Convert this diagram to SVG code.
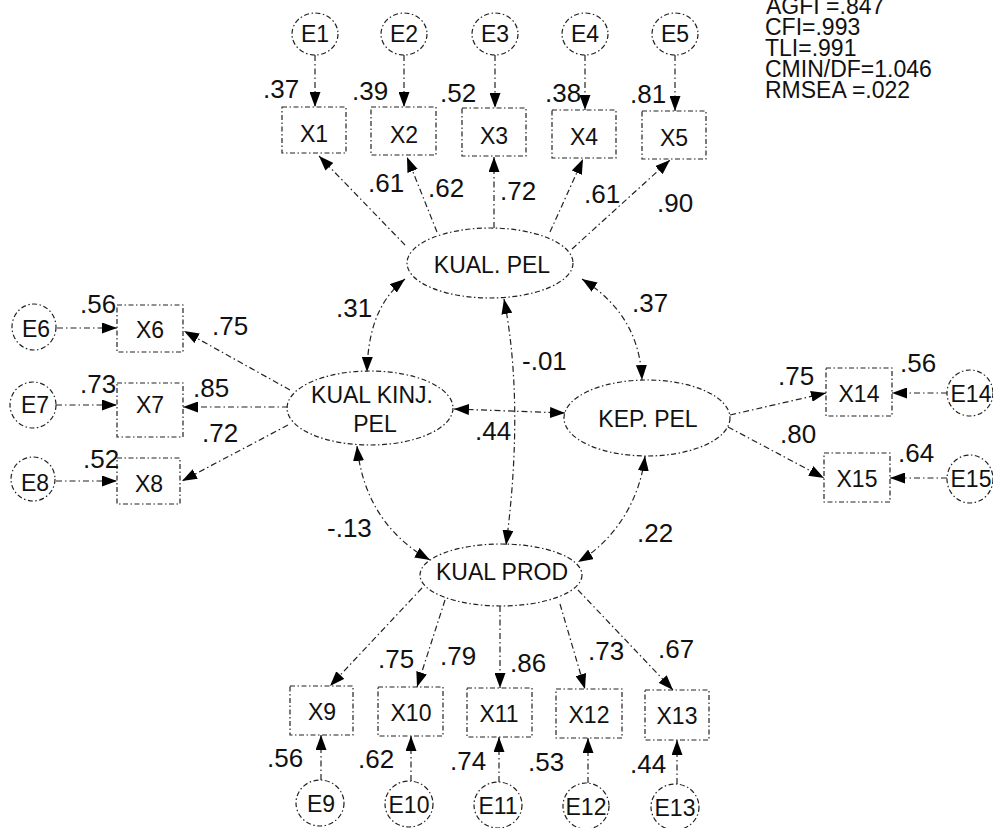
<svg xmlns="http://www.w3.org/2000/svg" width="993" height="828" viewBox="0 0 993 828">
<defs>
<style>
.n{fill:none;stroke:#222;stroke-width:1.2;stroke-dasharray:5 2.5 1.5 2.5}
.c{fill:none;stroke:#222;stroke-width:1.2;stroke-dasharray:6 3 1.5 3}
.t{font-family:"Liberation Sans",Arial,sans-serif;fill:#111;text-anchor:middle}
.e{font-size:23px}
.x{font-size:23px}
.l{font-size:23px}
.v{font-family:"Liberation Sans",Arial,sans-serif;fill:#111;font-size:26px}
.s{font-family:"Liberation Sans",Arial,sans-serif;fill:#111;font-size:23px}
</style>
<marker id="a" viewBox="0 0 15 11" refX="15" refY="5.5" markerWidth="15" markerHeight="11" markerUnits="userSpaceOnUse" orient="auto-start-reverse">
<path d="M0,0 L15,5.5 L0,11 z" fill="#000"/>
</marker>
</defs>
<rect width="993" height="828" fill="#fff"/>

<g id="connectors">
<path class="c" d="M315,55 L315,107" marker-end="url(#a)"/>
<path class="c" d="M404,55 L404,107" marker-end="url(#a)"/>
<path class="c" d="M495,55 L495,108" marker-end="url(#a)"/>
<path class="c" d="M585,55 L585,110" marker-end="url(#a)"/>
<path class="c" d="M675,55 L675,111" marker-end="url(#a)"/>
<path class="c" d="M57,328 L117,328" marker-end="url(#a)"/>
<path class="c" d="M56,405 L117,405" marker-end="url(#a)"/>
<path class="c" d="M56,481 L117,481" marker-end="url(#a)"/>
<path class="c" d="M947,393 L892,393" marker-end="url(#a)"/>
<path class="c" d="M947,478 L890,478" marker-end="url(#a)"/>
<path class="c" d="M321,780 L321,735" marker-end="url(#a)"/>
<path class="c" d="M411,781 L411,736" marker-end="url(#a)"/>
<path class="c" d="M499,782 L499,737" marker-end="url(#a)"/>
<path class="c" d="M588,783 L588,738" marker-end="url(#a)"/>
<path class="c" d="M677,784 L677,740" marker-end="url(#a)"/>
<path class="c" d="M405,245 L319,156" marker-end="url(#a)"/>
<path class="c" d="M437,232 L407,157" marker-end="url(#a)"/>
<path class="c" d="M494,228 L494,157" marker-end="url(#a)"/>
<path class="c" d="M550,232 L583,159" marker-end="url(#a)"/>
<path class="c" d="M572,249 L670,160" marker-end="url(#a)"/>
<path class="c" d="M290,390 L184,331" marker-end="url(#a)"/>
<path class="c" d="M288,407 L183,407" marker-end="url(#a)"/>
<path class="c" d="M288,425 L182,481" marker-end="url(#a)"/>
<path class="c" d="M730,415 L826,393" marker-end="url(#a)"/>
<path class="c" d="M728,427 L824,478" marker-end="url(#a)"/>
<path class="c" d="M422,588 L330,686" marker-end="url(#a)"/>
<path class="c" d="M445,600 L417,687" marker-end="url(#a)"/>
<path class="c" d="M500,606 L500,688" marker-end="url(#a)"/>
<path class="c" d="M560,604 L585,689" marker-end="url(#a)"/>
<path class="c" d="M578,590 L673,690" marker-end="url(#a)"/>
<path class="c" d="M405,279 C385,295 368,320 367,372" marker-start="url(#a)" marker-end="url(#a)"/>
<path class="c" d="M582,279 C615,300 640,330 642,380" marker-start="url(#a)" marker-end="url(#a)"/>
<path class="c" d="M504,299 C520,380 516,470 506,545" marker-start="url(#a)" marker-end="url(#a)"/>
<path class="c" d="M454,409 L565,413" marker-start="url(#a)" marker-end="url(#a)"/>
<path class="c" d="M357,446 C362,495 385,535 430,560" marker-start="url(#a)" marker-end="url(#a)"/>
<path class="c" d="M645,456 C640,500 615,540 578,562" marker-start="url(#a)" marker-end="url(#a)"/>
</g>

<g id="KUAL_PEL"><ellipse class="n" cx="490" cy="263" rx="83" ry="35"/><text class="t l" x="492" y="273">KUAL. PEL</text></g>
<g id="KUAL_KINJ_PEL"><ellipse class="n" cx="370" cy="408" rx="83" ry="37"/><text class="t l" x="372" y="403">KUAL KINJ.</text><text class="t l" x="375" y="432">PEL</text></g>
<g id="KEP_PEL"><ellipse class="n" cx="647" cy="418" rx="83" ry="38"/><text class="t l" x="648" y="427">KEP. PEL</text></g>
<g id="KUAL_PROD"><ellipse class="n" cx="501" cy="575" rx="81" ry="31"/><text class="t l" x="502" y="580">KUAL PROD</text></g>

<g id="X1"><rect class="n" x="282" y="107" width="64" height="46"/><text class="t x" x="314" y="142">X1</text></g>
<g id="X2"><rect class="n" x="371" y="107" width="65" height="48"/><text class="t x" x="404" y="143">X2</text></g>
<g id="X3"><rect class="n" x="462" y="108" width="64" height="48"/><text class="t x" x="494" y="144">X3</text></g>
<g id="X4"><rect class="n" x="552" y="110" width="64" height="48"/><text class="t x" x="584" y="145">X4</text></g>
<g id="X5"><rect class="n" x="642" y="111" width="64" height="48"/><text class="t x" x="674" y="146">X5</text></g>
<g id="X6"><rect class="n" x="117" y="305" width="66" height="47"/><text class="t x" x="150" y="338">X6</text></g>
<g id="X7"><rect class="n" x="117" y="383" width="66" height="54"/><text class="t x" x="150" y="413">X7</text></g>
<g id="X8"><rect class="n" x="117" y="458" width="63" height="46"/><text class="t x" x="149" y="492">X8</text></g>
<g id="X14"><rect class="n" x="826" y="368" width="66" height="48"/><text class="t x" x="859" y="402">X14</text></g>
<g id="X15"><rect class="n" x="824" y="453" width="66" height="49"/><text class="t x" x="857" y="487">X15</text></g>
<g id="X9"><rect class="n" x="290" y="686" width="63" height="49"/><text class="t x" x="322" y="720">X9</text></g>
<g id="X10"><rect class="n" x="378" y="687" width="65" height="49"/><text class="t x" x="411" y="721">X10</text></g>
<g id="X11"><rect class="n" x="467" y="688" width="65" height="49"/><text class="t x" x="499" y="722">X11</text></g>
<g id="X12"><rect class="n" x="556" y="689" width="66" height="49"/><text class="t x" x="589" y="723">X12</text></g>
<g id="X13"><rect class="n" x="645" y="690" width="64" height="50"/><text class="t x" x="677" y="724">X13</text></g>

<g id="E1"><ellipse class="n" cx="315" cy="34" rx="23" ry="21"/><text class="t e" x="315" y="42">E1</text></g>
<g id="E2"><ellipse class="n" cx="404" cy="34" rx="23" ry="21"/><text class="t e" x="404" y="42">E2</text></g>
<g id="E3"><ellipse class="n" cx="495" cy="34" rx="23" ry="21"/><text class="t e" x="495" y="42">E3</text></g>
<g id="E4"><ellipse class="n" cx="585" cy="34" rx="23" ry="21"/><text class="t e" x="585" y="42">E4</text></g>
<g id="E5"><ellipse class="n" cx="675" cy="34" rx="23" ry="21"/><text class="t e" x="675" y="42">E5</text></g>
<g id="E6"><ellipse class="n" cx="34" cy="327" rx="22" ry="23"/><text class="t e" x="36" y="337">E6</text></g>
<g id="E7"><ellipse class="n" cx="33" cy="405" rx="23" ry="23"/><text class="t e" x="35" y="413">E7</text></g>
<g id="E8"><ellipse class="n" cx="33" cy="479" rx="22" ry="22"/><text class="t e" x="35" y="491">E8</text></g>
<g id="E14"><ellipse class="n" cx="970" cy="393" rx="23" ry="23"/><text class="t e" x="971" y="402">E14</text></g>
<g id="E15"><ellipse class="n" cx="970" cy="479" rx="23" ry="24"/><text class="t e" x="971" y="487">E15</text></g>
<g id="E9"><ellipse class="n" cx="320" cy="803" rx="24" ry="23"/><text class="t e" x="321" y="812">E9</text></g>
<g id="E10"><ellipse class="n" cx="409" cy="804" rx="24" ry="23"/><text class="t e" x="409" y="813">E10</text></g>
<g id="E11"><ellipse class="n" cx="498" cy="805" rx="24" ry="23"/><text class="t e" x="498" y="814">E11</text></g>
<g id="E12"><ellipse class="n" cx="586" cy="806" rx="23" ry="23"/><text class="t e" x="586" y="815">E12</text></g>
<g id="E13"><ellipse class="n" cx="675" cy="807" rx="24" ry="23"/><text class="t e" x="675" y="816">E13</text></g>

<g id="values">
<text class="v" x="263" y="98">.37</text>
<text class="v" x="352" y="100">.39</text>
<text class="v" x="440" y="102">.52</text>
<text class="v" x="545" y="102">.38</text>
<text class="v" x="630" y="103">.81</text>
<text class="v" x="368" y="192">.61</text>
<text class="v" x="428" y="197">.62</text>
<text class="v" x="500" y="200">.72</text>
<text class="v" x="584" y="203">.61</text>
<text class="v" x="657" y="212">.90</text>
<text class="v" x="80" y="313">.56</text>
<text class="v" x="80" y="393">.73</text>
<text class="v" x="83" y="468">.52</text>
<text class="v" x="212" y="335">.75</text>
<text class="v" x="193" y="397">.85</text>
<text class="v" x="202" y="442">.72</text>
<text class="v" x="778" y="385">.75</text>
<text class="v" x="780" y="443">.80</text>
<text class="v" x="900" y="372">.56</text>
<text class="v" x="898" y="462">.64</text>
<text class="v" x="336" y="317">.31</text>
<text class="v" x="632" y="312">.37</text>
<text class="v" x="522" y="370">-.01</text>
<text class="v" x="475" y="440">.44</text>
<text class="v" x="327" y="537">-.13</text>
<text class="v" x="637" y="542">.22</text>
<text class="v" x="378" y="668">.75</text>
<text class="v" x="440" y="665">.79</text>
<text class="v" x="510" y="672">.86</text>
<text class="v" x="588" y="660">.73</text>
<text class="v" x="658" y="658">.67</text>
<text class="v" x="267" y="767">.56</text>
<text class="v" x="358" y="768">.62</text>
<text class="v" x="450" y="770">.74</text>
<text class="v" x="528" y="771">.53</text>
<text class="v" x="630" y="773">.44</text>
</g>

<g id="fit">
<text class="s" x="766" y="14">AGFI =.847</text>
<text class="s" x="765" y="35">CFI=.993</text>
<text class="s" x="765" y="56">TLI=.991</text>
<text class="s" x="765" y="77">CMIN/DF=1.046</text>
<text class="s" x="765" y="98">RMSEA =.022</text>
</g>
</svg>
